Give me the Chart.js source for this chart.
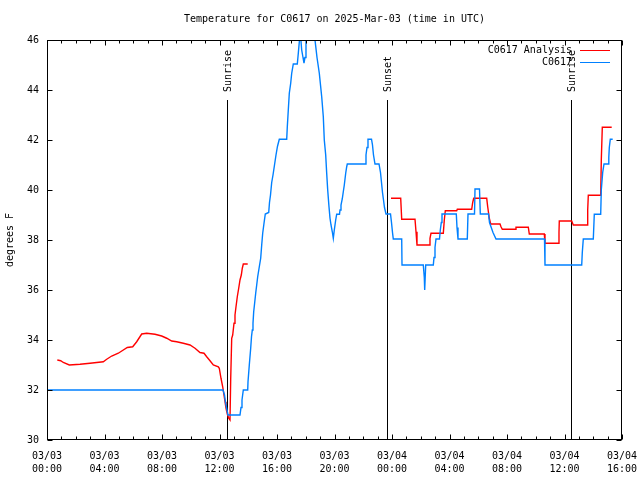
<!DOCTYPE html>
<html><head><meta charset="utf-8">
<script src="https://cdn.jsdelivr.net/npm/chart.js@4.4.1/dist/chart.umd.min.js"></script>
<style>html,body{margin:0;padding:0;background:#fff;overflow:hidden}canvas{display:block}</style>
</head><body>
<canvas id="c" width="640" height="480" style="width:640px;height:480px"></canvas>
<script>
const titleText = 'Temperature for C0617 on 2025-Mar-03 (time in UTC)';
const yAxisTitle = 'degrees F';
const seriesNames = ['C0617 Analysis', 'C0617'];
const tickDates = ['03/03','03/03','03/03','03/03','03/03','03/03','03/04','03/04','03/04','03/04','03/04'];
const tickTimes = ['00:00','04:00','08:00','12:00','16:00','20:00','00:00','04:00','08:00','12:00','16:00'];
const yTicks = [30, 32, 34, 36, 38, 40, 42, 44, 46];
const eventHours = [12.54, 23.67, 36.47];
const eventNames = ['Sunrise', 'Sunset', 'Sunrise'];

// hours since 2025-03-03 00:00 UTC, observed temperature (F)
const obsHours = [0,12.243,12.348,12.417,12.487,12.591,13.426,13.496,13.565,13.656,13.962,13.983,14.073,14.17,14.226,14.282,14.33,14.379,14.449,14.518,14.588,14.657,14.769,14.866,14.936,15.005,15.096,15.186,15.423,15.478,15.548,15.631,15.722,15.826,15.93,16.035,16.16,16.675,16.717,16.786,16.856,16.953,17.023,17.134,17.412,17.482,17.579,17.649,17.718,17.809,17.878,17.948,18.017,18.157,18.365,18.539,18.643,18.783,18.943,19.11,19.221,19.29,19.388,19.457,19.527,19.617,19.687,19.757,19.847,19.917,19.986,20.083,20.153,20.348,20.383,20.452,20.543,20.612,20.682,20.779,20.849,20.89,22.122,22.191,22.261,22.33,22.574,22.643,22.713,22.817,23.096,23.2,23.27,23.339,23.409,23.478,23.583,23.896,23.965,24.035,24.09,24.675,24.696,26.177,26.247,26.275,26.344,26.873,26.922,26.991,27.061,27.304,27.36,27.43,27.478,28.473,28.522,28.591,29.238,29.287,29.739,29.774,30.087,30.143,30.713,30.783,31.026,31.235,34.609,34.643,37.197,37.238,37.308,38.003,38.073,38.518,38.56,38.657,38.748,39.047,39.082,39.117,39.186,39.353];
const obsTemps = [32.0,32.0,31.8,31.5,31.3,31.0,31.0,31.3,31.6,32.0,32.0,32.33,33.0,33.67,34.13,34.4,34.67,35.13,35.5,35.87,36.2,36.53,36.93,37.27,37.8,38.27,38.67,39.04,39.1,39.5,39.8,40.3,40.6,41.0,41.4,41.75,42.03,42.03,42.53,43.2,43.87,44.27,44.67,45.04,45.04,45.47,46.1,46.1,45.6,45.3,45.07,45.3,46.1,46.7,46.7,46.2,46.0,45.3,44.67,43.73,42.93,42.0,41.4,40.67,40.0,39.33,38.87,38.6,38.33,38.07,38.4,38.8,39.03,39.03,39.2,39.4,39.65,39.93,40.2,40.67,40.93,41.04,41.04,41.4,41.7,42.03,42.03,41.8,41.4,41.04,41.04,40.7,40.3,39.9,39.6,39.3,39.04,39.04,38.7,38.3,38.04,38.04,37.0,37.0,36.5,36.0,37.0,37.0,37.3,37.7,38.04,38.04,38.4,38.7,39.04,39.04,38.5,38.04,38.04,39.04,39.04,40.04,40.04,39.04,39.04,38.7,38.3,38.04,38.04,37.0,37.0,37.5,38.04,38.04,39.03,39.03,40.0,40.7,41.04,41.04,41.3,41.7,42.03,42.03];

// hours since 2025-03-03 00:00 UTC, analysis temperature (F); null = no analysis
const anaHours = [0.717,0.953,1.134,1.551,2.296,2.991,3.457,3.917,4.153,4.501,4.96,5.586,5.962,6.24,6.588,6.936,7.513,7.979,8.327,8.675,9.023,9.482,9.948,10.296,10.643,10.922,11.11,11.339,11.569,11.917,11.986,12.104,12.223,12.313,12.383,12.452,12.543,12.64,12.73,12.779,12.849,12.918,13.009,13.078,13.148,13.238,13.336,13.426,13.517,13.586,13.656,13.962,18.0,23.93,24.605,24.675,25.6,25.67,25.739,26.595,26.643,26.713,27.569,27.638,27.708,28.501,28.543,29.544,29.614,29.684,30.588,30.657,30.769,30.866,31.513,31.583,31.673,32.605,32.626,33.482,33.551,34.595,34.643,35.569,35.617,35.638,36.501,36.612,37.586,37.614,37.656,38.518,38.56,38.63,39.284];
const anaTemps = [33.2,33.17,33.1,33.0,33.03,33.07,33.1,33.13,33.23,33.36,33.47,33.7,33.73,33.93,34.24,34.27,34.23,34.16,34.07,33.96,33.93,33.87,33.8,33.67,33.5,33.47,33.33,33.17,33.0,32.93,32.87,32.47,32.13,31.8,31.53,31.27,31.04,30.87,30.8,32.43,34.07,34.2,34.67,35.0,35.33,35.73,36.07,36.4,36.6,36.87,37.04,37.04,null,39.67,39.67,38.83,38.83,38.33,37.8,37.8,38.07,38.27,38.27,38.8,39.17,39.17,39.23,39.23,39.5,39.67,39.67,39.33,38.87,38.64,38.64,38.53,38.43,38.43,38.51,38.51,38.24,38.24,37.87,37.87,38.3,38.76,38.76,38.6,38.6,39.2,39.79,39.79,41.2,42.51,42.51];

const FONT_FAMILY = '"DejaVu Sans Mono", "Liberation Mono", monospace';
const FONT = '10px ' + FONT_FAMILY;
const toPts = (xs, ys) => xs.map((x, i) => ({ x: x, y: ys[i] }));

const decor = {
  id: 'decor',
  beforeDatasetsDraw(chart) {
    const { ctx, chartArea: a, scales: { x } } = chart;
    ctx.save();
    ctx.strokeStyle = '#000';
    ctx.lineWidth = 1;
    ctx.fillStyle = '#000';
    ctx.font = FONT;
    eventHours.forEach((h, i) => {
      const px = Math.round(x.getPixelForValue(h)) + 0.5;
      ctx.beginPath();
      ctx.moveTo(px, a.top + 60);
      ctx.lineTo(px, a.bottom);
      ctx.stroke();
      ctx.save();
      ctx.translate(px + 1, a.top + 52);
      ctx.rotate(-Math.PI / 2);
      ctx.textAlign = 'left';
      ctx.textBaseline = 'middle';
      ctx.fillText(eventNames[i], 0, 0);
      ctx.restore();
    });
    ctx.restore();
  },
  afterDraw(chart) {
    const { ctx, chartArea: a, scales: { x, y } } = chart;
    ctx.save();
    ctx.strokeStyle = '#000';
    ctx.lineWidth = 1;
    const L = Math.round(a.left) + 0.5, R = Math.round(a.right) - 0.5;
    const T = Math.round(a.top) + 0.5, B = Math.round(a.bottom) - 0.5;
    ctx.beginPath();
    // x ticks: major every 4 h, minor every hour
    for (let h = x.min; h <= x.max; h += 1) {
      const px = Math.round(x.getPixelForValue(h)) + 0.5;
      const len = (h % 4 === 0) ? 5 : 3;
      ctx.moveTo(px, B); ctx.lineTo(px, B - len);
      ctx.moveTo(px, T); ctx.lineTo(px, T + len);
    }
    yTicks.forEach(v => {
      const py = Math.round(y.getPixelForValue(v)) + 0.5;
      ctx.moveTo(L, py); ctx.lineTo(L + 5, py);
      ctx.moveTo(R, py); ctx.lineTo(R - 5, py);
    });
    ctx.stroke();
    ctx.strokeRect(L, T, R - L, B - T);

    ctx.fillStyle = '#000';
    ctx.font = FONT;
    // title
    ctx.textAlign = 'center';
    ctx.textBaseline = 'middle';
    ctx.fillText(titleText, (a.left + a.right) / 2, 19);
    // y axis title
    ctx.save();
    ctx.translate(10, (a.top + a.bottom) / 2);
    ctx.rotate(-Math.PI / 2);
    ctx.fillText(yAxisTitle, 0, 0);
    ctx.restore();
    // legend
    chart.data.datasets.forEach((ds, i) => {
      const ly = a.top + 10 + i * 12;
      ctx.textAlign = 'right';
      ctx.textBaseline = 'middle';
      ctx.fillStyle = '#000';
      ctx.fillText(ds.label, a.right - 50, ly);
      ctx.strokeStyle = ds.borderColor;
      ctx.beginPath();
      ctx.moveTo(a.right - 42, Math.round(ly) + 0.5);
      ctx.lineTo(a.right - 12, Math.round(ly) + 0.5);
      ctx.stroke();
    });
    ctx.restore();
  }
};

new Chart(document.getElementById('c'), {
  type: 'line',
  data: {
    datasets: [
      { label: seriesNames[0], data: toPts(anaHours, anaTemps), borderColor: '#ff0000', backgroundColor: '#ff0000', borderWidth: 1.4, pointRadius: 0, tension: 0, spanGaps: false, order: 1 },
      { label: seriesNames[1], data: toPts(obsHours, obsTemps), borderColor: '#0080ff', backgroundColor: '#0080ff', borderWidth: 1.4, pointRadius: 0, tension: 0, spanGaps: false, order: 0 }
    ]
  },
  options: {
    responsive: false,
    animation: false,
    devicePixelRatio: 1,
    layout: { padding: { top: 40, right: 18, left: 0, bottom: 0 } },
    plugins: { legend: { display: false }, title: { display: false }, tooltip: { enabled: false } },
    scales: {
      x: {
        type: 'linear', min: 0, max: 40,
        grid: { display: false, drawTicks: false },
        border: { display: false },
        afterFit: s => { s.height = 40; s.paddingLeft = 0; s.paddingRight = 0; },
        ticks: {
          stepSize: 4, autoSkip: false, maxRotation: 0, minRotation: 0, padding: 10,
          color: '#000', font: { family: FONT_FAMILY, size: 10, lineHeight: 1.3 },
          callback: (v, i) => [tickDates[i], tickTimes[i]]
        }
      },
      y: {
        min: 30, max: 46,
        grid: { display: false, drawTicks: false },
        border: { display: false },
        afterFit: s => { s.width = 47; s.paddingTop = 0; s.paddingBottom = 0; },
        ticks: {
          stepSize: 2, padding: 8, color: '#000',
          font: { family: FONT_FAMILY, size: 10 }
        }
      }
    }
  },
  plugins: [decor]
});
</script>
</body></html>
